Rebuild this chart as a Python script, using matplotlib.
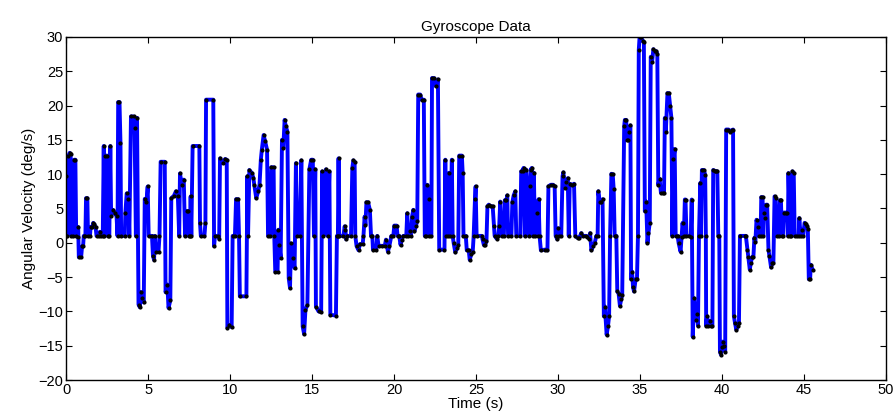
import matplotlib
matplotlib.use("Agg")
import matplotlib.pyplot as plt
import numpy as np

plt.rcParams['font.family'] = ['Liberation Sans', 'DejaVu Sans']

title = "Gyroscope Data"
xlabel = "Time (s)"
ylabel = "Angular Velocity (deg/s)"
xticks = [0, 5, 10, 15, 20, 25, 30, 35, 40, 45, 50]
yticks = [-20, -15, -10, -5, 0, 5, 10, 15, 20, 25, 30]

samples = [
    (0.00, 1.0), (0.01, 9.8), (0.08, 1.0), (0.15, 12.7), (0.22, 13.1), (0.28, 12.9), (0.33, 1.0),
    (0.45, 1.0), (0.50, 12.1), (0.57, 12.1), (0.62, 1.0), (0.70, 0.9), (0.74, 2.3), (0.78, -2.1),
    (0.92, -2.1), (0.98, -0.5), (1.04, -0.5), (1.08, 1.0), (1.18, 1.0), (1.22, 6.5), (1.30, 6.5),
    (1.34, 1.0), (1.46, 1.0), (1.50, 2.3), (1.60, 2.3), (1.66, 2.9), (1.72, 2.7), (1.80, 2.3),
    (1.86, 1.0), (1.98, 1.0), (2.06, 1.6), (2.12, 1.0), (2.24, 1.0), (2.30, 14.1), (2.34, 1.0),
    (2.40, 12.7), (2.50, 12.7), (2.55, 1.0), (2.64, 1.0), (2.70, 14.1), (2.75, 3.9), (2.86, 4.8),
    (2.96, 4.3), (3.08, 3.9), (3.14, 1.0), (3.18, 20.5), (3.26, 20.5), (3.32, 14.6), (3.36, 1.0),
    (3.58, 1.0), (3.62, 4.4), (3.70, 7.2), (3.80, 6.4), (3.86, 1.0), (3.96, 18.4), (4.12, 18.4),
    (4.18, 16.7), (4.26, 1.0), (4.33, 18.2), (4.42, -9.0), (4.50, -9.4), (4.56, -7.2), (4.64, -8.0),
    (4.74, -8.7), (4.80, 6.4), (4.90, 5.9), (4.98, 8.2), (5.04, 1.0), (5.24, 1.0), (5.30, -1.9),
    (5.37, -2.5), (5.41, 1.0), (5.47, -1.3), (5.64, -1.3), (5.70, 1.0), (5.77, 11.8), (6.02, 11.8),
    (6.07, -7.2), (6.18, -6.1), (6.25, -9.5), (6.36, -8.4), (6.42, 6.5), (6.58, 6.85), (6.70, 7.5),
    (6.82, 6.75), (6.90, 1.0), (6.95, 10.1), (7.06, 8.45), (7.18, 9.2), (7.26, 1.0), (7.36, 4.6),
    (7.44, 4.6), (7.48, 1.0), (7.56, 1.0), (7.60, 6.75), (7.64, 1.0), (7.72, 14.1), (8.13, 14.1),
    (8.17, 2.9), (8.22, 1.0), (8.44, 1.0), (8.50, 2.9), (8.54, 20.85), (8.98, 20.85), (9.03, -0.5),
    (9.08, 1.0), (9.28, 1.0), (9.34, 0.6), (9.39, 12.3), (9.55, 11.6), (9.70, 12.2), (9.80, 12.1),
    (9.84, -12.4), (9.96, -12.0), (10.10, -12.3), (10.16, 1.0), (10.30, 1.0), (10.37, 6.35), (10.49, 6.35),
    (10.55, 1.0), (10.60, -7.8), (11.00, -7.8), (11.06, 9.7), (11.10, 1.0), (11.18, 10.6),
    (11.32, 10.2), (11.42, 9.5), (11.48, 8.45), (11.60, 6.5), (11.72, 7.5), (11.80, 8.45),
    (11.88, 12.1), (11.94, 13.55), (12.05, 15.7), (12.14, 14.8), (12.26, 13.55), (12.32, 1.0),
    (12.46, 1.0), (12.52, 11.0), (12.66, 11.0), (12.70, 1.0), (12.76, -4.2), (12.90, -4.2),
    (12.95, 1.9), (13.00, -0.3), (13.09, -2.2), (13.17, 15.0), (13.25, 13.8), (13.33, 17.9),
    (13.40, 17.0), (13.50, 16.2), (13.58, -5.15), (13.66, -6.6), (13.72, -0.1), (13.82, -2.2),
    (13.94, -3.7), (14.02, 11.6), (14.10, 1.0), (14.26, 1.0), (14.35, 12.0), (14.43, -12.2),
    (14.52, -13.3), (14.60, -9.8), (14.72, -9.0), (14.84, 10.7), (14.95, 12.1), (15.05, 12.1),
    (15.12, 1.0), (15.20, 10.7), (15.24, -9.3), (15.40, -10.0), (15.56, -10.1), (15.62, 10.4),
    (15.70, 1.0), (15.85, 10.7), (15.95, 1.0), (16.06, 10.4), (16.12, -10.5), (16.46, -10.6),
    (16.52, 1.0), (16.58, 1.0), (16.62, 12.3), (16.66, 1.0), (16.92, 1.0), (16.99, 2.4),
    (17.04, 1.9), (17.08, 0.5), (17.15, 1.0), (17.38, 1.0), (17.46, 10.9), (17.52, 12.0),
    (17.60, 11.8), (17.64, 1.0), (17.72, -0.5), (17.84, -1.1), (17.92, -0.2), (18.09, -0.2),
    (18.14, 1.0), (18.21, 3.8), (18.26, 2.6), (18.32, 5.9), (18.42, 5.9), (18.53, 4.8), (18.60, 1.0),
    (18.68, 1.0), (18.72, -1.0), (18.92, -1.0), (18.98, 1.0), (19.06, -0.45), (19.30, -0.45),
    (19.44, -0.45), (19.51, 0.45), (19.63, -1.3), (19.72, -0.45), (19.84, 1.0), (19.96, 1.0),
    (20.02, 2.5), (20.16, 2.5), (20.22, 1.0), (20.32, 1.0), (20.40, -0.3), (20.46, 0.4),
    (20.57, 1.0), (20.75, 1.0), (20.81, 4.3), (20.86, 1.0), (20.95, 1.65), (21.02, 1.0),
    (21.10, 3.8), (21.18, 4.8), (21.24, 1.65), (21.32, 2.4), (21.42, 3.1), (21.48, 21.6),
    (21.60, 21.6), (21.68, 20.85), (21.82, 20.85), (21.88, 1.0), (21.98, 1.0), (22.03, 8.45),
    (22.11, 6.35), (22.16, 1.0), (22.28, 1.0), (22.32, 24.0), (22.44, 24.0), (22.56, 22.8),
    (22.68, 23.8), (22.76, -1.0), (23.08, -1.0), (23.13, 12.1), (23.18, 1.0), (23.30, 1.0),
    (23.36, 10.2), (23.42, 1.0), (23.53, 12.1), (23.58, 1.0), (23.64, -0.05), (23.74, -1.4),
    (23.84, -0.8), (23.92, -0.3), (23.98, 12.7), (24.14, 12.7), (24.19, 10.2), (24.24, 1.0),
    (24.38, 1.0), (24.44, -1.1), (24.56, -1.1), (24.62, -2.5), (24.72, -1.6), (24.80, -1.4),
    (24.86, 1.0), (24.94, 6.35), (24.98, 8.2), (25.04, 1.0), (25.36, 1.0), (25.40, 0.5),
    (25.48, -0.3), (25.56, -0.3), (25.64, 0.2), (25.70, 5.3), (25.78, 5.55), (25.90, 5.3),
    (26.02, 5.3), (26.10, 2.5), (26.14, 1.0), (26.26, 0.6), (26.36, 1.0), (26.42, 2.5),
    (26.48, 6.0), (26.56, 1.0), (26.70, 1.0), (26.76, 6.2), (26.86, 6.2), (26.91, 6.9),
    (26.96, 1.0), (27.16, 1.0), (27.22, 5.9), (27.30, 6.9), (27.40, 7.5), (27.46, 1.0),
    (27.70, 1.0), (27.76, 10.4), (27.84, 10.4), (27.90, 10.9), (27.98, 1.0), (28.06, 10.65),
    (28.22, 1.0), (28.28, 8.2), (28.34, 10.65), (28.40, 10.9), (28.46, 1.0), (28.53, 10.2),
    (28.60, 1.0), (28.70, 4.4), (28.76, 1.0), (28.82, 6.35), (28.88, 1.0), (28.96, -1.1),
    (29.20, -1.0), (29.36, -1.1), (29.42, 8.2), (29.56, 8.45), (29.70, 8.45), (29.80, 8.2),
    (29.86, 1.0), (29.96, 0.5), (30.02, 2.1), (30.08, 1.0), (30.20, 1.0), (30.28, 9.7),
    (30.33, 10.25), (30.42, 8.0), (30.52, 8.8), (30.60, 9.4), (30.66, 1.0), (30.72, 8.6),
    (30.88, 8.4), (30.98, 8.6), (31.06, 1.0), (31.20, 0.7), (31.30, 0.7), (31.42, 1.4),
    (31.50, 1.0), (31.70, 1.0), (31.80, 0.9), (31.90, 0.6), (31.96, 1.4), (32.04, -1.1),
    (32.12, -0.5), (32.24, -0.05), (32.34, 1.0), (32.42, 1.0), (32.46, 7.5), (32.54, 6.0),
    (32.62, 6.0), (32.72, 6.35), (32.80, -10.7), (32.86, -9.3), (32.97, -13.4), (33.05, -12.2),
    (33.12, -10.7), (33.18, 1.0), (33.26, 10.05), (33.34, 10.0), (33.40, 7.8), (33.46, 1.0),
    (33.56, 1.0), (33.62, -7.1), (33.70, -7.4), (33.78, -9.2), (33.86, -8.2), (33.92, -7.6),
    (34.04, 17.0), (34.08, 17.9), (34.16, 17.9), (34.22, 15.0), (34.30, 15.0), (34.36, 16.2),
    (34.42, 17.1), (34.46, -5.3), (34.52, -4.2), (34.58, -6.5), (34.64, -7.1), (34.74, -5.3),
    (34.82, -5.3), (34.88, 1.0), (34.93, 28.1), (34.98, 30.0), (35.08, 30.0), (35.16, 29.4),
    (35.24, 29.3), (35.30, 4.6), (35.38, 6.0), (35.46, -0.05), (35.52, 1.4), (35.60, 2.95),
    (35.66, 27.1), (35.74, 26.3), (35.82, 28.2), (35.90, 27.9), (36.00, 27.9), (36.06, 27.5),
    (36.12, 8.45), (36.20, 9.3), (36.28, 7.3), (36.40, 7.3), (36.47, 7.3), (36.52, 18.2),
    (36.58, 16.2), (36.68, 21.8), (36.76, 21.8), (36.84, 20.0), (36.92, 18.2), (36.98, 1.0),
    (37.04, 12.2), (37.12, 13.65), (37.18, 1.0), (37.30, 1.0), (37.36, -0.05), (37.48, -1.3),
    (37.54, 0.8), (37.60, 2.9), (37.68, 1.0), (37.74, 6.3), (37.78, 6.3), (37.84, 1.0),
    (38.02, 1.0), (38.10, 0.9), (38.16, 6.3), (38.22, -13.7), (38.30, -8.1), (38.40, -11.3),
    (38.47, -10.4), (38.54, -12.1), (38.60, 1.0), (38.68, 8.7), (38.72, 1.0), (38.78, 10.6),
    (38.90, 10.6), (38.98, 9.9), (39.02, 1.0), (39.04, -12.1), (39.10, -10.7), (39.16, -12.1),
    (39.26, -11.4), (39.36, -12.1), (39.42, -12.1), (39.47, 10.6), (39.56, 10.5), (39.64, 10.4),
    (39.72, 10.4), (39.78, 1.0), (39.84, 1.0), (39.88, -15.85), (39.94, -16.3), (40.00, -15.2),
    (40.04, -14.4), (40.12, -15.1), (40.20, -15.85), (40.26, 16.5), (40.40, 16.5), (40.50, 16.2),
    (40.60, 16.4), (40.68, 16.5), (40.73, -10.7), (40.80, -11.7), (40.88, -12.7), (40.96, -12.1),
    (41.04, -11.7), (41.10, 1.0), (41.40, 1.0), (41.46, 1.0), (41.56, -1.0), (41.62, -2.1),
    (41.70, -3.9), (41.76, -3.0), (41.84, -2.1), (41.92, -2.1), (41.98, 0.7), (42.04, 0.1),
    (42.11, 3.35), (42.19, 2.3), (42.26, 1.0), (42.36, 1.0), (42.40, 6.65), (42.48, 6.65),
    (42.52, 1.0), (42.56, 4.4), (42.62, 3.6), (42.70, 5.55), (42.76, 5.55), (42.84, -1.0),
    (42.90, -2.0), (43.00, -3.6), (43.08, -2.9), (43.14, -2.9), (43.21, 6.75), (43.28, 6.5),
    (43.34, 1.0), (43.46, 1.0), (43.54, 6.2), (43.60, 6.2), (43.66, 1.0), (43.72, 1.0),
    (43.78, 4.4), (43.90, 4.4), (43.98, 4.3), (44.02, 1.0), (44.06, 10.15), (44.16, 1.0),
    (44.24, 1.0), (44.30, 10.4), (44.38, 10.2), (44.44, 1.0), (44.60, 1.0), (44.68, 1.0),
    (44.72, 3.6), (44.80, 1.0), (44.88, 1.9), (44.96, 1.0), (45.04, 2.9), (45.10, 2.7),
    (45.16, 2.5), (45.24, 2.0), (45.30, -5.3), (45.38, -5.3), (45.42, -3.2), (45.53, -3.9),
]
time_s = [s[0] for s in samples]
ang_vel = [s[1] for s in samples]

fig = plt.figure(figsize=(8.96, 4.2), dpi=100)
ax = fig.add_axes([0.0737, 0.0952, 0.915, 0.817])
ax.plot(time_s, ang_vel, color='#0000ff', linewidth=2.8, zorder=2)
ax.plot(time_s, ang_vel, linestyle='none', marker='o', markersize=2.0, color='black', zorder=3)

ax.set_xlim(0, 50)
ax.set_ylim(-20, 30)
ax.set_xticks(xticks)
ax.set_yticks(yticks)
ax.tick_params(direction='in', top=True, right=True, length=4, width=0.8, labelsize=10.5, pad=2)
for sp in ax.spines.values():
    sp.set_linewidth(1.0)
ax.set_title(title, fontsize=11, pad=4)
ax.set_xlabel(xlabel, fontsize=11, labelpad=0)
ax.set_ylabel(ylabel, fontsize=11, labelpad=2)

fig.savefig("out.png", dpi=100)
